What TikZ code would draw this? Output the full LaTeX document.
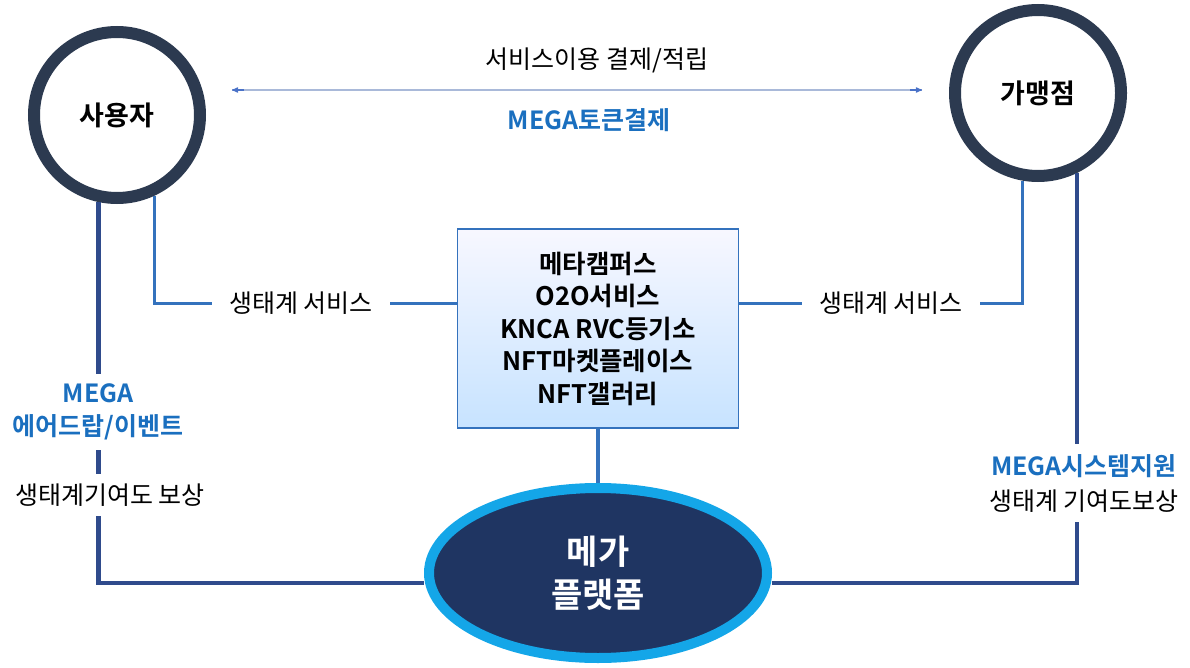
\documentclass[tikz,border=0pt]{standalone}
\usepackage{fontspec}
\setmainfont{Noto Sans CJK KR}[BoldFont={Noto Sans CJK KR Bold}]
\usetikzlibrary{arrows,shapes}
\definecolor{ringgray}{HTML}{2C3A50}
\definecolor{reward}{HTML}{2F4B8C}
\definecolor{svcblue}{HTML}{3472BD}
\definecolor{megablue}{HTML}{1A6FBF}
\definecolor{corenavy}{HTML}{1F3562}
\definecolor{coresky}{HTML}{14A6E8}
\definecolor{paygray}{HTML}{A9B9D9}
\definecolor{paytip}{HTML}{4A72C8}

\begin{document}
\begin{tikzpicture}[x=1pt,y=-1pt,>=stealth',
  party/.style={circle,draw=ringgray,line width=12pt,fill=white,minimum size=166pt,
    font=\fontsize{27}{30}\selectfont\bfseries},
  hub/.style={rectangle,draw=svcblue,line width=1.2pt,top color=blue!3,bottom color=blue!50!cyan!22,
    minimum width=281pt,minimum height=199pt,align=center,font=\fontsize{25.5}{32.5}\selectfont\bfseries},
  core/.style={ellipse,draw=coresky,line width=10pt,fill=corenavy,text=white,
    minimum width=338pt,minimum height=170pt,align=center,font=\fontsize{34}{43}\selectfont\bfseries},
  note/.style={font=\fontsize{25}{33}\selectfont,align=center},
  mega/.style={note,text=megablue,font=\fontsize{25}{33}\selectfont\bfseries},
  gap/.style={fill=white,inner xsep=17pt,inner ysep=10pt},
  svc/.style={draw=svcblue,line width=3.5pt},
  rw/.style={draw=reward,line width=4.5pt},
  pay/.style={draw=paytip,line width=1.2pt,->}]
  \useasboundingbox (0,0) rectangle (1190,668);
  \node[party] (u) at (117,115)   {사용자};
  \node[party] (m) at (1038,93)   {가맹점};
  \node[hub]   (s) at (598,328.5) {메타캠퍼스\\O2O서비스\\KNCA RVC등기소\\NFT마켓플레이스\\NFT갤러리};
  \node[core]  (p) at (598,573)   {메가\\플랫폼};
  \coordinate (al) at (232,90);
  \coordinate (ar) at (922,90);
  \draw[paygray,line width=1.2pt] (al) -- (ar);
  \draw[pay] ([xshift=12pt]al) -- (al);
  \draw[pay] ([xshift=-12pt]ar) -- (ar);
  \node[note] (t1) at (597,60)  {서비스이용 결제/적립};
  \node[mega] (t2) at (589,120) {MEGA토큰결제};
  \draw[svc] (u.295) |- ([yshift=25pt]s.west);
  \draw[svc] (m.260) |- ([yshift=25pt]s.east);
  \draw[svc,line width=4pt] (s.south) -- (p.north);
  \node[note,gap] (l1) at (301,303) {생태계 서비스};
  \node[note,gap] (r1) at (891,303) {생태계 서비스};
  \draw[rw] (u.258) |- ([yshift=-10pt]p.west);
  \draw[rw] (m.296) |- ([yshift=-10pt]p.east);
  \node[mega,gap] (l2) at (98,412) {MEGA\\에어드랍/이벤트};
  \node[note,gap,inner ysep=10pt] (l3) at (110,495) {생태계기여도 보상};
  \node[note,gap,font=\fontsize{25}{35}\selectfont] (r2) at (1084,483) {\textcolor{megablue}{\bfseries MEGA시스템지원}\\생태계 기여도보상};
\end{tikzpicture}
\end{document}
